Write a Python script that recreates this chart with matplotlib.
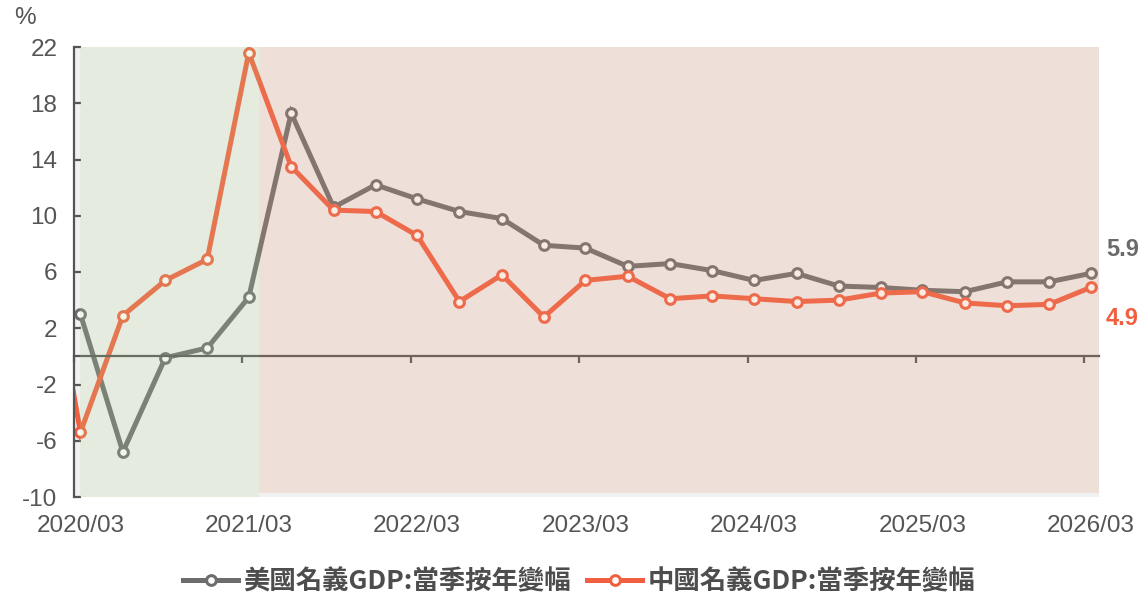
import numpy as np
import matplotlib
matplotlib.use("Agg")
import matplotlib.pyplot as plt
from matplotlib.lines import Line2D

# ---------------- data ----------------
quarters = ["2019/12",
            "2020/03", "2020/06", "2020/09", "2020/12",
            "2021/03", "2021/06", "2021/09", "2021/12",
            "2022/03", "2022/06", "2022/09", "2022/12",
            "2023/03", "2023/06", "2023/09", "2023/12",
            "2024/03", "2024/06", "2024/09", "2024/12",
            "2025/03", "2025/06", "2025/09", "2025/12",
            "2026/03"]

us_gdp = [np.nan,
          3.0, -6.8, -0.1, 0.6,
          4.2, 17.3, 10.6, 12.2,
          11.2, 10.3, 9.8, 7.9,
          7.7, 6.4, 6.6, 6.1,
          5.4, 5.9, 5.0, 4.9,
          4.7, 4.6, 5.3, 5.3,
          5.9]

cn_gdp = [11.5,
          -5.4, 2.9, 5.4, 6.9,
          21.6, 13.5, 10.4, 10.3,
          8.6, 3.9, 5.8, 2.8,
          5.4, 5.7, 4.1, 4.3,
          4.1, 3.9, 4.0, 4.5,
          4.6, 3.8, 3.6, 3.7,
          4.9]

tick_labels = ["2020/03", "2021/03", "2022/03", "2023/03", "2024/03", "2025/03", "2026/03"]
y_ticks = [-10, -6, -2, 2, 6, 10, 14, 18, 22]

us_label = "美國名義GDP:當季按年變幅"
cn_label = "中國名義GDP:當季按年變幅"

# ---------------- helpers ----------------
def q_date(s, day=15):
    y, m = s.split("/")
    return np.datetime64(f"{y}-{m}-{day:02d}")

x_dates = np.array([q_date(q) for q in quarters])
tick_mark_dates = np.array([q_date(t, 1) for t in tick_labels])
tick_label_dates = np.array([q_date(t, 15) for t in tick_labels])

US_COLOR = "#6d6d6d"
CN_COLOR = "#f05f40"
TXT = "#555555"
TICK_FS = 17.5

plt.rcParams["font.family"] = ["Liberation Sans", "DejaVu Sans"]

fig = plt.figure(figsize=(11.4, 5.97), dpi=100)
ax = fig.add_axes([74 / 1140, 1 - 497 / 597, (1099 - 74) / 1140, 450 / 597])
ax.set_facecolor("#f1f1f1")

x_left = np.datetime64("2020-03-01")
x_right = np.datetime64("2026-04-02")
ax.set_xlim(x_left, x_right)
ax.set_ylim(-10, 22)

# lines
ax.plot(x_dates, us_gdp, color=US_COLOR, lw=3.6, marker="o", ms=7,
        mfc="white", mec=US_COLOR, mew=2.2, zorder=2, solid_joinstyle="miter")
ax.plot(x_dates, cn_gdp, color=CN_COLOR, lw=3.6, marker="o", ms=7,
        mfc="white", mec=CN_COLOR, mew=2.2, zorder=2.2, solid_joinstyle="miter")

# shaded periods (overlay)
span_split = np.datetime64("2021-04-06")
ax.axvspan(np.datetime64("2020-03-15"), span_split, color="#b6d493", alpha=0.2,
           lw=0, zorder=4)
ax.axvspan(span_split, x_right, ymin=0.008, color="#e3987a", alpha=0.2, lw=0, zorder=4)

# spines
for s in ["top", "right"]:
    ax.spines[s].set_visible(False)
ax.spines["left"].set_color(TXT)
ax.spines["left"].set_linewidth(1.6)
ax.spines["bottom"].set_position(("data", 0))
ax.spines["bottom"].set_color("#555555")
ax.spines["bottom"].set_linewidth(1.6)

ax.set_xticks(tick_mark_dates)
ax.tick_params(axis="x", direction="out", length=5, width=1.6, color=TXT,
               labelbottom=False)
ax.set_yticks(y_ticks)
ax.set_yticklabels([str(v) for v in y_ticks])
ax.tick_params(axis="y", direction="in", length=5, width=1.6, color=TXT,
               labelsize=TICK_FS, labelcolor=TXT, pad=12)

# x labels at the bottom
sec = ax.secondary_xaxis("bottom")
sec.set_xticks(tick_label_dates)
sec.set_xticklabels(tick_labels)
sec.tick_params(length=0, pad=13, labelsize=TICK_FS, labelcolor=TXT)
sec.spines["bottom"].set_visible(False)

fig.text(25 / 1140, 1 - 18 / 597, "%", ha="center", va="center",
         fontsize=TICK_FS, color=TXT)

# end labels
ax.annotate(f"{us_gdp[-1]:.1f}", xy=(x_dates[-1], us_gdp[-1]),
            xytext=(11, 17), textcoords="offset points", ha="left", va="center",
            fontsize=17, fontweight="bold", color="#6a6a6a", annotation_clip=False)
ax.annotate(f"{cn_gdp[-1]:.1f}", xy=(x_dates[-1], cn_gdp[-1]),
            xytext=(11, -22), textcoords="offset points", ha="left", va="center",
            fontsize=17, fontweight="bold", color=CN_COLOR, annotation_clip=False)

# legend
handles = [
    Line2D([], [], color=US_COLOR, lw=3.6, marker="o", ms=7, mfc="white",
           mec=US_COLOR, mew=2.2),
    Line2D([], [], color=CN_COLOR, lw=3.6, marker="o", ms=7, mfc="white",
           mec=CN_COLOR, mew=2.2),
]
fig.legend(handles, [us_label, cn_label], loc="center", ncol=2,
           bbox_to_anchor=(0.508, 1 - 582 / 597), frameon=False,
           prop={"family": ["Noto Sans CJK TC", "DejaVu Sans"], "size": 19,
                 "weight": "bold"},
           labelcolor="#4d4d4d", handlelength=2.1, handletextpad=0.2,
           columnspacing=0.6)

fig.savefig("out.png", dpi=100)
